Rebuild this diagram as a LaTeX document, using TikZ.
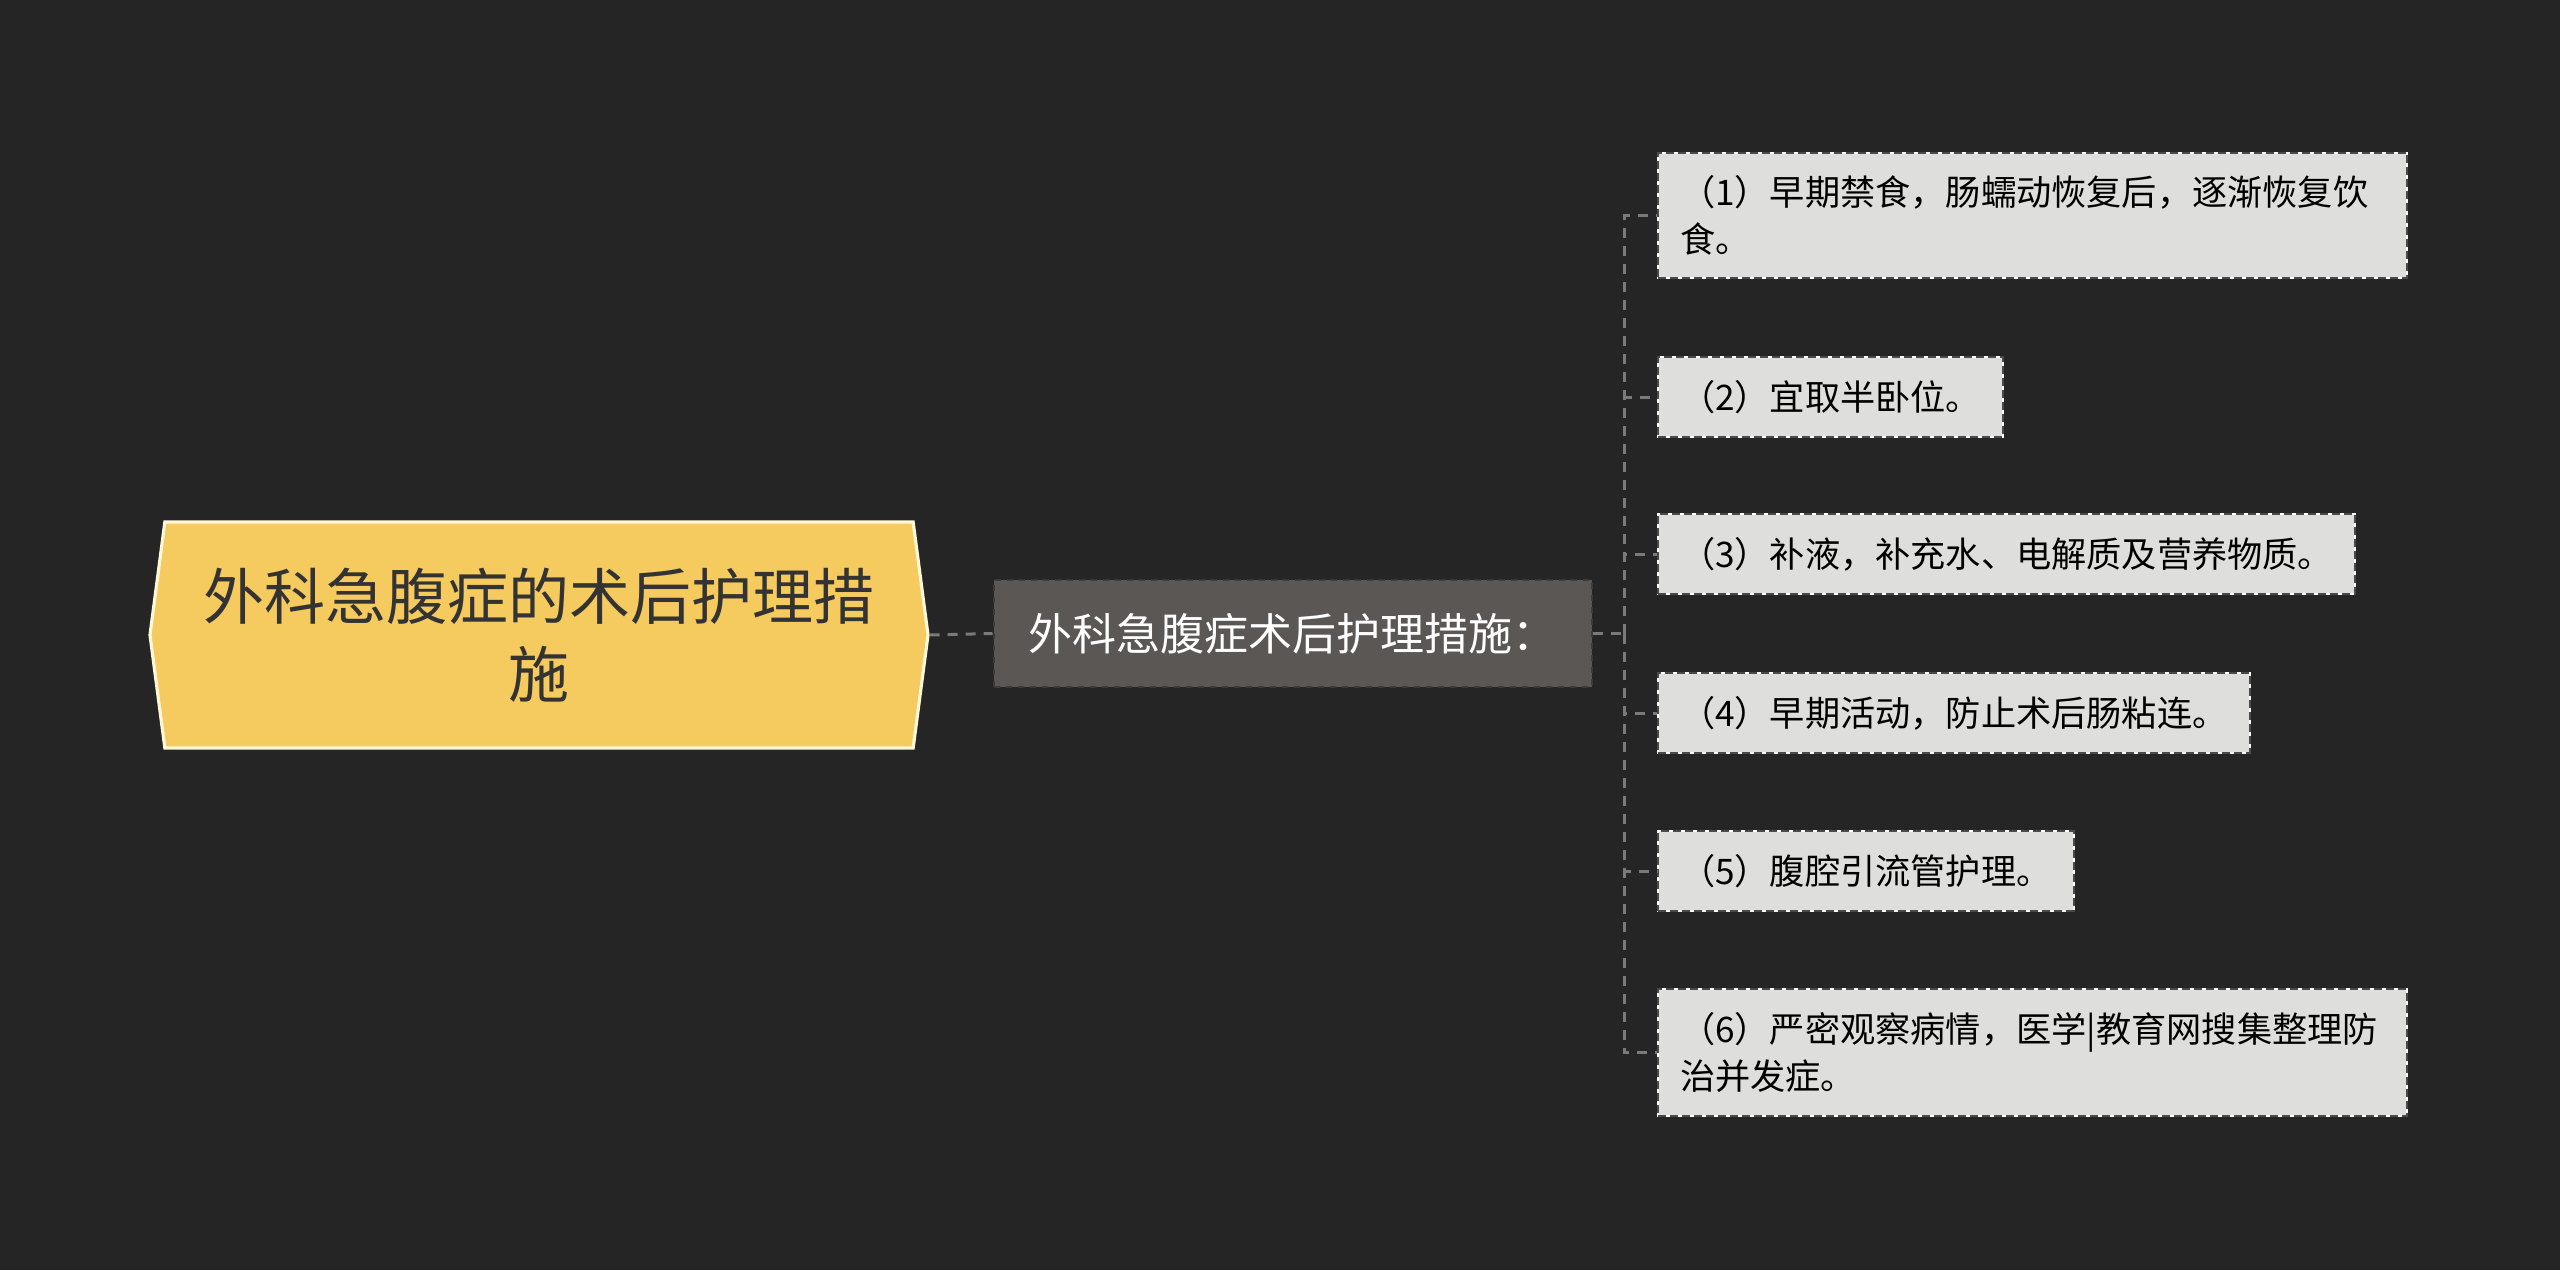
\documentclass[tikz,border=0pt]{standalone}
\usepackage{fontspec}
\setmainfont{Noto Sans CJK SC}
\usetikzlibrary{shapes.symbols,positioning}
\definecolor{bgdark}{HTML}{252525}
\definecolor{rootfill}{HTML}{F5CA5E}
\definecolor{rootedge}{HTML}{FFF7D6}
\definecolor{planfill}{HTML}{5A5754}
\definecolor{planedge}{HTML}{3C3B39}
\definecolor{leaffill}{HTML}{DEDEDC}
\definecolor{leafedge}{HTML}{4A4A4A}
\definecolor{linkgray}{HTML}{7A7A7A}

\begin{document}
\begin{tikzpicture}[x=0.5pt, y=-0.5pt,
    rootbox/.style={shape=signal, signal to=west and east, signal pointer angle=165,
        fill=rootfill, draw=rootedge, line width=1.6pt, minimum width=389pt, minimum height=113pt,
        align=center, text=black!80, font=\fontsize{30.5pt}{39pt}\selectfont},
    planbox/.style={fill=planfill, draw=planedge, dashed, line width=1pt, minimum height=53.5pt,
        inner xsep=17.5pt, text=white, font=\fontsize{22pt}{28pt}\selectfont},
    leafbox/.style={fill=leaffill, draw=white, line width=1pt, anchor=west, align=left,
        inner xsep=11pt, inner ysep=11.5pt, text=black, font=\fontsize{17.6pt}{23.5pt}\selectfont,
        postaction={draw=leafedge, dash pattern=on 4pt off 2pt}},
    link/.style={draw=linkgray, line width=1.5pt, dash pattern=on 5pt off 4pt}]
    \fill[bgdark] (0,0) rectangle (2560,1270);
    \useasboundingbox (0,0) rectangle (2560,1270);
    % root and summary node
    \node[rootbox] (root) at (539,635) {外科急腹症的术后护理措\\施};
    \node[planbox] (plan) at (1292.5,633.5) {外科急腹症术后护理措施：};
    % care measures
    \node[leafbox, text width=352.5pt] (care1) at (1657,215.5) {（1）早期禁食，肠蠕动恢复后，逐渐恢复饮\\食。};
    \node[leafbox] (care2) at (1657,397) {（2）宜取半卧位。};
    \node[leafbox] (care3) at (1657,554) {（3）补液，补充水、电解质及营养物质。};
    \node[leafbox] (care4) at (1657,713) {（4）早期活动，防止术后肠粘连。};
    \node[leafbox] (care5) at (1657,871) {（5）腹腔引流管护理。};
    \node[leafbox, text width=352.5pt] (care6) at (1657,1052.5) {（6）严密观察病情，医学|教育网搜集整理防\\治并发症。};
    % connectors
    \coordinate (fork) at (1624,633.5);
    \draw[link] (root.east) -- (plan.west);
    \draw[link] (plan.east) -- (fork);
    \foreach \i in {1,...,6}
        \draw[link] (fork) |- (care\i.west);
\end{tikzpicture}
\end{document}
